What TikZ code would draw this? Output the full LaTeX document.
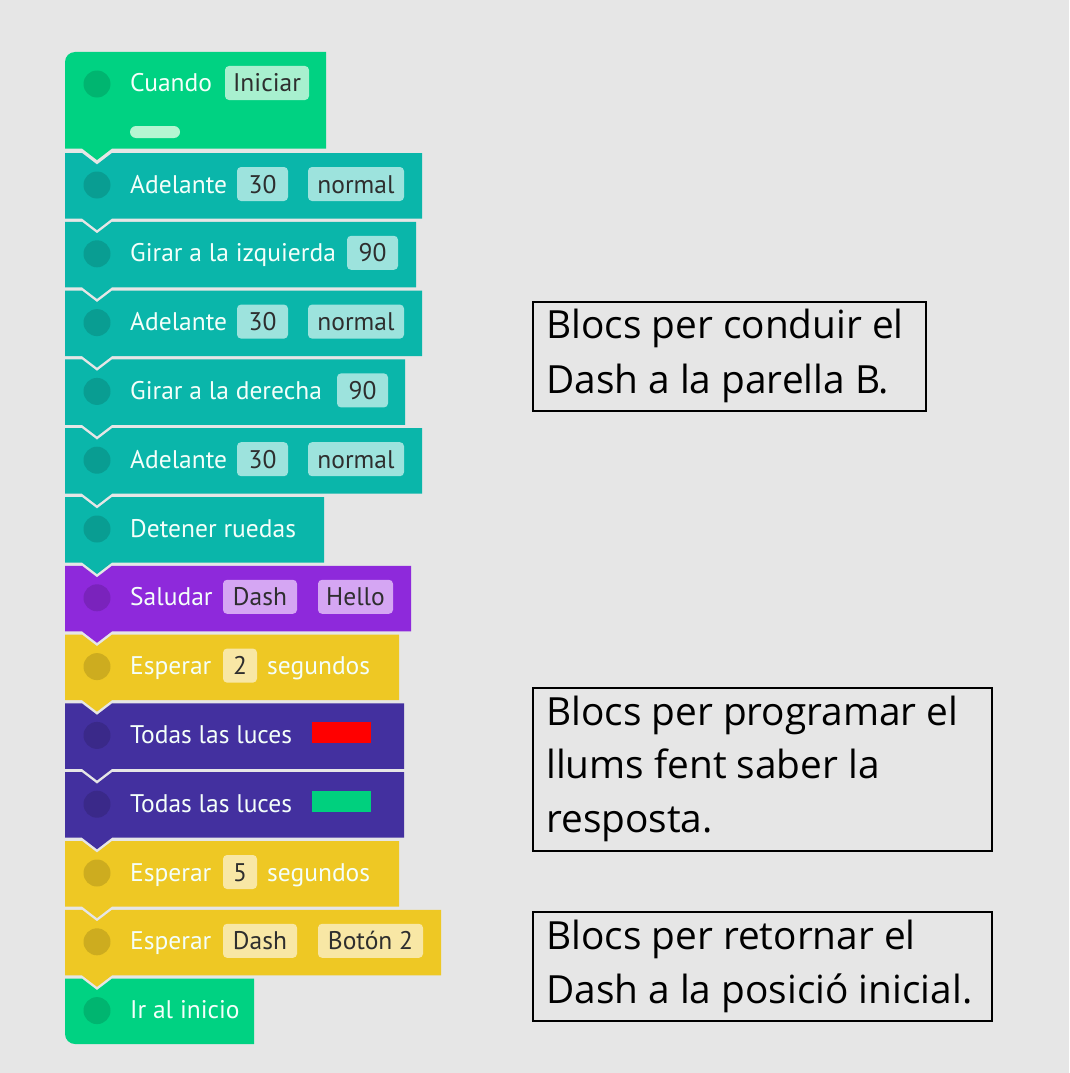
\documentclass[tikz,border=0pt]{standalone}
\usepackage{fontspec}
\setmainfont{Open Sans}
\newfontfamily\blockfont{PT Sans}
\definecolor{bg}{HTML}{E6E6E6}
\definecolor{cgreen}{HTML}{00D282}
\definecolor{cteal}{HTML}{0AB6AA}
\definecolor{cpurple}{HTML}{8E29DB}
\definecolor{cyellow}{HTML}{EEC824}
\definecolor{cindigo}{HTML}{43309F}
\definecolor{pgreen}{HTML}{A8F0CF}
\definecolor{bargreen}{HTML}{B5F6D2}
\definecolor{pteal}{HTML}{9DE3DD}
\definecolor{ppurple}{HTML}{D5A6F3}
\definecolor{pyellow}{HTML}{F8E7A5}
\definecolor{ledred}{HTML}{FF0000}
\definecolor{ledgreen}{HTML}{00D07E}
\definecolor{btext}{HTML}{F4FFFA}
\definecolor{ptext}{HTML}{2E2E2E}
\tikzset{
  btxt/.style={anchor=base west, inner sep=0pt, text=btext, font=\blockfont\fontsize{25.5}{30}\selectfont},
  ptxt/.style={anchor=base, inner sep=0pt, text=ptext, font=\blockfont\fontsize{25.5}{30}\selectfont},
  rtxt/.style={anchor=base west, inner sep=0pt, text=black, font=\fontsize{38.8}{46}\selectfont},
  rbox/.style={draw=black, line width=1.3pt, inner sep=0pt},
}
% middle block: top, right, colour
\newcommand\dblk[3]{%
  \fill[#3] (65,#1) -- (82,#1) -- (97,#1+11.5) -- (112,#1) -- (#2,#1) -- (#2,#1+65.5)
    -- (112,#1+65.5) -- (97,#1+77) -- (82,#1+65.5) -- (65,#1+65.5) -- cycle;
  \fill[#3!86!black] (97,#1+32) circle[radius=13.5pt];
}
% value pill: name, x1, x2, top of block, colour, text
\newcommand\dpill[6]{%
  \fill[#5, rounded corners=4pt] (#2,#4+14) rectangle (#3,#4+48);
  \node[ptxt] (#1) at ({(#2+#3)/2},#4+40) {#6};
}
\begin{document}
\begin{tikzpicture}[x=1pt,y=-1pt]
\useasboundingbox (0,0) rectangle (1069,1073);
\fill[bg] (0,0) rectangle (1069,1073);

% ---- block 1: Cuando Iniciar
\fill[cgreen] (65,148.5) -- (65,62) arc[start angle=180,end angle=90,radius=10pt]
  -- (326,52) -- (326,148.5) -- (112,148.5) -- (97,160) -- (82,148.5) -- cycle;
\fill[cgreen!86!black] (97,84) circle[radius=13.5pt];
\node[btxt] (cuando) at (130,91) {Cuando};
\dpill{iniciar}{225}{309}{52}{pgreen}{Iniciar}
\fill[bargreen, rounded corners=6pt] (130,126) rectangle (180,138);

% ---- block 2
\dblk{153}{422}{cteal}
\node[btxt] (adel1) at (130,193) {Adelante};
\dpill{adel1v}{237}{288}{153}{pteal}{30}
\dpill{adel1s}{308}{404}{153}{pteal}{normal}

% ---- block 3
\dblk{221.8}{416}{cteal}
\node[btxt] (izq) at (130,261.8) {Girar a la izquierda};
\dpill{izqv}{347}{398}{221.8}{pteal}{90}

% ---- block 4
\dblk{290.6}{422}{cteal}
\node[btxt] (adel2) at (130,330.6) {Adelante};
\dpill{adel2v}{237}{288}{290.6}{pteal}{30}
\dpill{adel2s}{308}{404}{290.6}{pteal}{normal}

% ---- block 5
\dblk{359.4}{405}{cteal}
\node[btxt] (der) at (130,399.4) {Girar a la derecha};
\dpill{derv}{337}{388}{359.4}{pteal}{90}

% ---- block 6
\dblk{428.2}{422}{cteal}
\node[btxt] (adel3) at (130,468.2) {Adelante};
\dpill{adel3v}{237}{288}{428.2}{pteal}{30}
\dpill{adel3s}{308}{404}{428.2}{pteal}{normal}

% ---- block 7
\dblk{497}{324}{cteal}
\node[btxt] (detener) at (130,537) {Detener ruedas};

% ---- block 8
\dblk{565.8}{411}{cpurple}
\node[btxt] (saludar) at (130,605.8) {Saludar};
\dpill{sal1}{223}{297}{565.8}{ppurple}{Dash}
\dpill{sal2}{318}{393}{565.8}{ppurple}{Hello}

% ---- block 9
\dblk{634.6}{399}{cyellow}
\node[btxt] (esp1) at (130,674.6) {Esperar};
\dpill{esp1v}{223}{257}{634.6}{pyellow}{2}
\node[btxt] (esp1s) at (267,674.6) {segundos};

% ---- block 10
\dblk{703.4}{404}{cindigo}
\node[btxt] (luz1) at (130,743.4) {Todas las luces};
\fill[ledred] (312,722.4) rectangle (371,743.4);

% ---- block 11
\dblk{772.2}{404}{cindigo}
\node[btxt] (luz2) at (130,812.2) {Todas las luces};
\fill[ledgreen] (312,791.2) rectangle (371,812.2);

% ---- block 12
\dblk{841}{399}{cyellow}
\node[btxt] (esp2) at (130,881) {Esperar};
\dpill{esp2v}{223}{257}{841}{pyellow}{5}
\node[btxt] (esp2s) at (267,881) {segundos};

% ---- block 13
\dblk{909.8}{441}{cyellow}
\node[btxt] (esp3) at (130,949.8) {Esperar};
\dpill{esp3a}{223}{297}{909.8}{pyellow}{Dash}
\dpill{esp3b}{318}{423}{909.8}{pyellow}{Botón 2}

% ---- block 14: Ir al inicio
\fill[cgreen] (65,978.6) -- (82,978.6) -- (97,990.1) -- (112,978.6) -- (254,978.6)
  -- (254,1044) -- (75,1044) arc[start angle=270,end angle=180,radius=10pt] -- cycle;
\fill[cgreen!86!black] (97,1010.6) circle[radius=13.5pt];
\node[btxt] (inicio) at (130,1018.6) {Ir al inicio};

% ---- explanation boxes
\node[rbox, minimum width=393pt, minimum height=109pt] (box1) at (729.5,356.5) {};
\node[rtxt] (b1a) at (546,338) {Blocs per conduir el};
\node[rtxt] (b1b) at (546,393) {Dash a la parella B.};

\node[rbox, minimum width=459pt, minimum height=163pt] (box2) at (762.5,769.5) {};
\node[rtxt] (b2a) at (546,725) {Blocs per programar el};
\node[rtxt] (b2b) at (546,778.5) {llums fent saber la};
\node[rtxt] (b2c) at (546,832) {resposta.};

\node[rbox, minimum width=459pt, minimum height=109pt] (box3) at (762.5,966.5) {};
\node[rtxt] (b3a) at (546,949) {Blocs per retornar el};
\node[rtxt] (b3b) at (546,1003) {Dash a la posició inicial.};
\end{tikzpicture}
\end{document}
